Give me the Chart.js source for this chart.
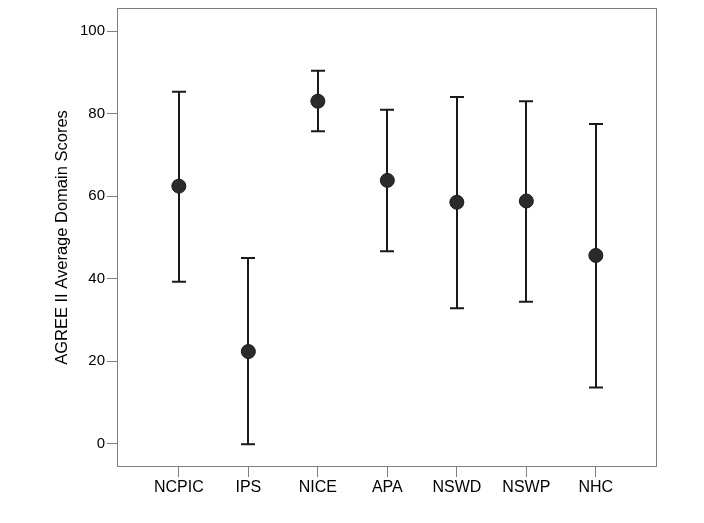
<!DOCTYPE html>
<html>
<head>
<meta charset="utf-8">
<script src="https://cdn.jsdelivr.net/npm/chart.js@4.4.1/dist/chart.umd.min.js"></script>
<style>
  html, body { margin: 0; padding: 0; background: #fff; }
  canvas { display: block; }
</style>
</head>
<body>
<canvas id="scoreChart" width="704" height="523"></canvas>
<script>
// AGREE II domain scores per guideline (mean with error bar)
const guidelines = ['NCPIC', 'IPS', 'NICE', 'APA', 'NSWD', 'NSWP', 'NHC'];
const meanScores = [62.4, 22.3, 83.0, 63.8, 58.5, 58.8, 45.6];
const lowerScores = [39.2, -0.2, 75.7, 46.6, 32.8, 34.4, 13.6];
const upperScores = [85.3, 45.0, 90.4, 80.9, 84.0, 83.0, 77.5];
const yTicks = [0, 20, 40, 60, 80, 100];

const axisGray = '#7f7f7f';
const markColor = '#1a1a1a';

// error bars drawn under the points
const errorBars = {
    id: 'errorBars',
    beforeDatasetsDraw(chart) {
        const { ctx, scales: { x, y } } = chart;
        ctx.save();
        ctx.strokeStyle = markColor;
        ctx.lineWidth = 2;
        guidelines.forEach((g, i) => {
            const px = Math.round(x.getPixelForValue(i));
            const top = y.getPixelForValue(upperScores[i]);
            const bot = y.getPixelForValue(lowerScores[i]);
            ctx.beginPath();
            ctx.moveTo(px, top);
            ctx.lineTo(px, bot);
            ctx.moveTo(px - 7, top);
            ctx.lineTo(px + 7, top);
            ctx.moveTo(px - 7, bot);
            ctx.lineTo(px + 7, bot);
            ctx.stroke();
        });
        ctx.restore();
    }
};

// frame round the plot area
const plotFrame = {
    id: 'plotFrame',
    afterDraw(chart) {
        const { ctx, chartArea: a } = chart;
        ctx.save();
        ctx.strokeStyle = axisGray;
        ctx.lineWidth = 1;
        ctx.strokeRect(Math.round(a.left) + 0.5, Math.round(a.top) + 0.5,
            Math.round(a.right - a.left) - 1, Math.round(a.bottom - a.top) - 1);
        ctx.restore();
    }
};

const ctxScore = document.getElementById('scoreChart').getContext('2d');
const scoreChart = new Chart(ctxScore, {
    type: 'scatter',
    data: {
        datasets: [{
            data: guidelines.map((g, i) => ({ x: i, y: meanScores[i] })),
            backgroundColor: '#2b2b2b',
            borderColor: markColor,
            borderWidth: 1,
            pointRadius: 7,
            pointHoverRadius: 7
        }]
    },
    options: {
        responsive: false,
        animation: false,
        layout: { padding: { left: 0, top: 7, right: 47, bottom: 0 } },
        plugins: { legend: { display: false }, tooltip: { enabled: false } },
        scales: {
            x: {
                type: 'linear',
                min: -0.89,
                max: 6.88,
                afterBuildTicks: s => { s.ticks = guidelines.map((g, i) => ({ value: i })); },
                afterFit: s => { s.height = 56; s.paddingLeft = 0; s.paddingRight = 0; },
                border: { display: false },
                grid: { drawOnChartArea: false, color: axisGray, tickLength: 10 },
                ticks: {
                    autoSkip: false,
                    maxRotation: 0,
                    padding: 1,
                    color: '#000',
                    font: { family: 'Liberation Sans, Arial', size: 16 },
                    callback: v => guidelines[v]
                }
            },
            y: {
                min: -5.7,
                max: 105.6,
                afterBuildTicks: s => { s.ticks = yTicks.map(v => ({ value: v })); },
                afterFit: s => { s.width = 117; s.paddingTop = 0; s.paddingBottom = 0; },
                border: { display: false },
                grid: { drawOnChartArea: false, color: axisGray, tickLength: 10 },
                ticks: {
                    padding: 2,
                    color: '#000',
                    font: { family: 'Liberation Sans, Arial', size: 15 }
                },
                title: {
                    display: true,
                    text: 'AGREE II Average Domain Scores',
                    color: '#000',
                    padding: { top: 53, bottom: 0 },
                    font: { family: 'Liberation Sans, Arial', size: 16.5 }
                }
            }
        }
    },
    plugins: [errorBars, plotFrame]
});
</script>
</body>
</html>
